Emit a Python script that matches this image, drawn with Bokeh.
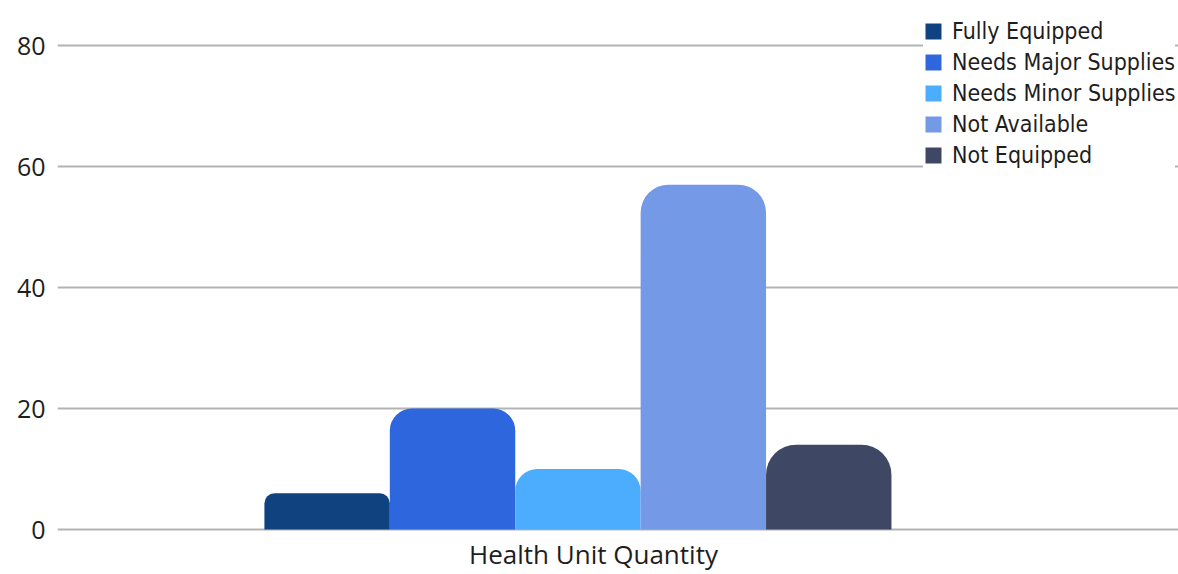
from bokeh.plotting import figure
from bokeh.models import Range1d, FixedTicker, Legend, LegendItem
from bokeh.embed import file_html
from bokeh.resources import INLINE

# ---- data ----
category = "Health Unit Quantity"
series = ["Fully Equipped", "Needs Major Supplies", "Needs Minor Supplies",
          "Not Available", "Not Equipped"]
values = [6, 20, 10, 57, 14]
y_ticks = [0, 20, 40, 60, 80]

# ---- styles ----
colors = ["#114280", "#2d66dd", "#4cadfe", "#7399e7", "#3e4764"]
radii = [10, 22, 22, 28, 30]
group_offset = -0.124
bar_width = 1.0
text_color = "#1e1e1e"
legend_font = "'DejaVu Sans Condensed', 'Liberation Sans Narrow', 'Roboto Condensed', Roboto"

p = figure(width=1178, height=574, output_backend="svg", toolbar_location=None,
           x_range=Range1d(-4.274, 4.665), y_range=Range1d(-0.33, 87.44),
           min_border_left=57, min_border_right=0, min_border_top=0,
           min_border_bottom=43)
p.outline_line_color = None
p.background_fill_color = "white"
p.border_fill_color = "white"

items = []
n = len(series)
for i, (name, v) in enumerate(zip(series, values)):
    xpos = group_offset + (i - (n - 1) / 2) * bar_width
    r = p.vbar(x=[xpos], top=[v], bottom=0, width=bar_width,
               fill_color=colors[i], line_color=None,
               border_radius=(radii[i], radii[i], 0, 0))
    items.append(LegendItem(label=name, renderers=[r]))

# axes
p.yaxis.ticker = FixedTicker(ticks=y_ticks)
p.yaxis.axis_line_color = None
p.yaxis.major_tick_line_color = None
p.yaxis.minor_tick_line_color = None
p.yaxis.major_tick_out = 0
p.yaxis.major_label_standoff = 12
p.yaxis.major_label_text_font = "Open Sans"
p.yaxis.major_label_text_font_size = "25px"
p.yaxis.major_label_text_color = text_color

p.xaxis.ticker = FixedTicker(ticks=[0])
p.xaxis.major_label_overrides = {0: category}
p.xaxis.axis_line_color = None
p.xaxis.major_tick_line_color = None
p.xaxis.minor_tick_line_color = None
p.xaxis.major_tick_out = 0
p.xaxis.major_label_standoff = 4
p.xaxis.major_label_text_font = "Open Sans"
p.xaxis.major_label_text_font_size = "26px"
p.xaxis.major_label_text_color = text_color

p.xgrid.grid_line_color = None
p.ygrid.ticker = FixedTicker(ticks=y_ticks)
p.ygrid.grid_line_color = "#b3b3b3"
p.ygrid.grid_line_width = 2

legend = Legend(items=items, location=(866, 363), orientation="vertical",
                padding=10, margin=0, spacing=5,
                glyph_width=20, glyph_height=20, label_height=20,
                label_standoff=9,
                label_text_font=legend_font,
                label_text_font_size="23px",
                label_text_color=text_color,
                background_fill_color="white", background_fill_alpha=1.0,
                border_line_color=None)
p.add_layout(legend, "center")

open("out.html", "w").write(file_html(p, INLINE))
